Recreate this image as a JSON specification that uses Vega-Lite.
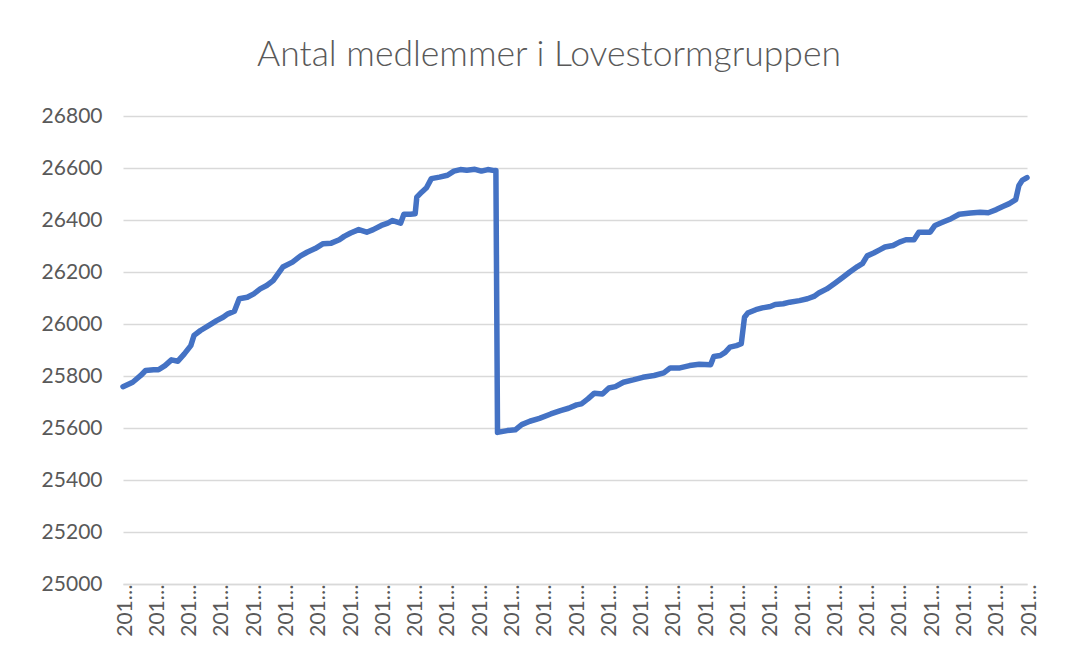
{
  "$schema": "https://vega.github.io/schema/vega-lite/v6.json",
  "width": 904,
  "height": 468,
  "autosize": {"type": "none"},
  "padding": {"left": 123, "top": 116, "right": 48, "bottom": 71},
  "background": "white",
  "title": {
    "text": "Antal medlemmer i Lovestormgruppen",
    "font": "Lato",
    "fontWeight": 300,
    "fontSize": 35.5,
    "color": "#595959",
    "anchor": "middle",
    "dx": -26,
    "offset": 4,
    "baseline": "alphabetic"
  },
  "config": {"view": {"stroke": null}, "font": "Lato"},
  "data": {
    "values": [
      {"dag": 0, "medlemmer": 25759},
      {"dag": 6, "medlemmer": 25776},
      {"dag": 11, "medlemmer": 25802},
      {"dag": 14, "medlemmer": 25821},
      {"dag": 19, "medlemmer": 25824},
      {"dag": 22, "medlemmer": 25824},
      {"dag": 26, "medlemmer": 25840},
      {"dag": 30, "medlemmer": 25862},
      {"dag": 34, "medlemmer": 25857},
      {"dag": 38, "medlemmer": 25885},
      {"dag": 42, "medlemmer": 25917},
      {"dag": 44, "medlemmer": 25956},
      {"dag": 48, "medlemmer": 25975},
      {"dag": 53, "medlemmer": 25994},
      {"dag": 58, "medlemmer": 26013},
      {"dag": 62, "medlemmer": 26026},
      {"dag": 65, "medlemmer": 26039},
      {"dag": 69, "medlemmer": 26049},
      {"dag": 72, "medlemmer": 26097},
      {"dag": 77, "medlemmer": 26103},
      {"dag": 81, "medlemmer": 26116},
      {"dag": 85, "medlemmer": 26135},
      {"dag": 89, "medlemmer": 26148},
      {"dag": 93, "medlemmer": 26167},
      {"dag": 96, "medlemmer": 26193},
      {"dag": 99, "medlemmer": 26219},
      {"dag": 105, "medlemmer": 26238},
      {"dag": 110, "medlemmer": 26262},
      {"dag": 114, "medlemmer": 26276},
      {"dag": 119, "medlemmer": 26290},
      {"dag": 124, "medlemmer": 26309},
      {"dag": 129, "medlemmer": 26311},
      {"dag": 134, "medlemmer": 26324},
      {"dag": 137, "medlemmer": 26337},
      {"dag": 141, "medlemmer": 26350},
      {"dag": 146, "medlemmer": 26363},
      {"dag": 151, "medlemmer": 26353},
      {"dag": 155, "medlemmer": 26363},
      {"dag": 160, "medlemmer": 26379},
      {"dag": 164, "medlemmer": 26388},
      {"dag": 167, "medlemmer": 26398},
      {"dag": 172, "medlemmer": 26388},
      {"dag": 174, "medlemmer": 26422},
      {"dag": 178, "medlemmer": 26422},
      {"dag": 181, "medlemmer": 26424},
      {"dag": 182, "medlemmer": 26488},
      {"dag": 185, "medlemmer": 26507},
      {"dag": 188, "medlemmer": 26524},
      {"dag": 191, "medlemmer": 26559},
      {"dag": 196, "medlemmer": 26565},
      {"dag": 201, "medlemmer": 26572},
      {"dag": 205, "medlemmer": 26588},
      {"dag": 209, "medlemmer": 26594},
      {"dag": 213, "medlemmer": 26591},
      {"dag": 218, "medlemmer": 26595},
      {"dag": 222, "medlemmer": 26588},
      {"dag": 226, "medlemmer": 26594},
      {"dag": 230, "medlemmer": 26590},
      {"dag": 231, "medlemmer": 26590},
      {"dag": 232, "medlemmer": 25583},
      {"dag": 238, "medlemmer": 25590},
      {"dag": 243, "medlemmer": 25593},
      {"dag": 247, "medlemmer": 25613},
      {"dag": 252, "medlemmer": 25626},
      {"dag": 258, "medlemmer": 25637},
      {"dag": 265, "medlemmer": 25654},
      {"dag": 271, "medlemmer": 25667},
      {"dag": 276, "medlemmer": 25676},
      {"dag": 281, "medlemmer": 25689},
      {"dag": 284, "medlemmer": 25693},
      {"dag": 288, "medlemmer": 25712},
      {"dag": 292, "medlemmer": 25734},
      {"dag": 297, "medlemmer": 25731},
      {"dag": 301, "medlemmer": 25754},
      {"dag": 305, "medlemmer": 25759},
      {"dag": 310, "medlemmer": 25776},
      {"dag": 316, "medlemmer": 25785},
      {"dag": 322, "medlemmer": 25795},
      {"dag": 329, "medlemmer": 25802},
      {"dag": 335, "medlemmer": 25812},
      {"dag": 339, "medlemmer": 25831},
      {"dag": 345, "medlemmer": 25831},
      {"dag": 351, "medlemmer": 25840},
      {"dag": 357, "medlemmer": 25845},
      {"dag": 364, "medlemmer": 25843},
      {"dag": 366, "medlemmer": 25875},
      {"dag": 370, "medlemmer": 25879},
      {"dag": 373, "medlemmer": 25891},
      {"dag": 376, "medlemmer": 25911},
      {"dag": 380, "medlemmer": 25917},
      {"dag": 383, "medlemmer": 25924},
      {"dag": 385, "medlemmer": 26026},
      {"dag": 387, "medlemmer": 26042},
      {"dag": 392, "medlemmer": 26055},
      {"dag": 396, "medlemmer": 26062},
      {"dag": 401, "medlemmer": 26067},
      {"dag": 404, "medlemmer": 26075},
      {"dag": 409, "medlemmer": 26078},
      {"dag": 413, "medlemmer": 26084},
      {"dag": 419, "medlemmer": 26090},
      {"dag": 424, "medlemmer": 26097},
      {"dag": 428, "medlemmer": 26106},
      {"dag": 431, "medlemmer": 26119},
      {"dag": 436, "medlemmer": 26135},
      {"dag": 441, "medlemmer": 26157},
      {"dag": 446, "medlemmer": 26180},
      {"dag": 450, "medlemmer": 26199},
      {"dag": 455, "medlemmer": 26221},
      {"dag": 458, "medlemmer": 26232},
      {"dag": 461, "medlemmer": 26262},
      {"dag": 465, "medlemmer": 26273},
      {"dag": 469, "medlemmer": 26286},
      {"dag": 472, "medlemmer": 26296},
      {"dag": 477, "medlemmer": 26302},
      {"dag": 481, "medlemmer": 26315},
      {"dag": 485, "medlemmer": 26324},
      {"dag": 490, "medlemmer": 26324},
      {"dag": 493, "medlemmer": 26353},
      {"dag": 497, "medlemmer": 26353},
      {"dag": 500, "medlemmer": 26353},
      {"dag": 503, "medlemmer": 26379},
      {"dag": 508, "medlemmer": 26392},
      {"dag": 513, "medlemmer": 26405},
      {"dag": 518, "medlemmer": 26422},
      {"dag": 525, "medlemmer": 26427},
      {"dag": 531, "medlemmer": 26430},
      {"dag": 536, "medlemmer": 26428},
      {"dag": 541, "medlemmer": 26440},
      {"dag": 545, "medlemmer": 26452},
      {"dag": 549, "medlemmer": 26463},
      {"dag": 553, "medlemmer": 26478},
      {"dag": 555, "medlemmer": 26533},
      {"dag": 557, "medlemmer": 26552},
      {"dag": 560, "medlemmer": 26563}
    ]
  },
  "mark": {
    "type": "line",
    "color": "#4472C4",
    "strokeWidth": 5.5,
    "strokeCap": "round",
    "strokeJoin": "round"
  },
  "encoding": {
    "x": {
      "field": "dag",
      "type": "quantitative",
      "scale": {"domain": [0, 560], "nice": false, "zero": false},
      "axis": {
        "values": [0, 20, 40, 60, 80, 100, 120, 140, 160, 180, 200, 220, 240, 260, 280, 300, 320, 340, 360, 380, 400, 420, 440, 460, 480, 500, 520, 540, 560],
        "labelExpr": "'201…'",
        "labelAngle": -90,
        "labelAlign": "right",
        "labelBaseline": "middle",
        "labelOffset": 2,
        "grid": false,
        "ticks": false,
        "domain": true,
        "domainColor": "#D9D9D9",
        "domainWidth": 1.5,
        "labelPadding": 0,
        "labelFont": "Lato",
        "labelFontSize": 21,
        "labelColor": "#595959",
        "labelOverlap": false,
        "labelBound": false,
        "labelFlush": false,
        "title": null
      }
    },
    "y": {
      "field": "medlemmer",
      "type": "quantitative",
      "scale": {"domain": [25000, 26800], "nice": false, "zero": false},
      "axis": {
        "values": [25000, 25200, 25400, 25600, 25800, 26000, 26200, 26400, 26600, 26800],
        "format": "d",
        "grid": true,
        "gridColor": "#D9D9D9",
        "gridWidth": 1.5,
        "ticks": false,
        "domain": false,
        "labelPadding": 21,
        "labelFont": "Lato",
        "labelFontSize": 21,
        "labelColor": "#595959",
        "title": null
      }
    }
  }
}
